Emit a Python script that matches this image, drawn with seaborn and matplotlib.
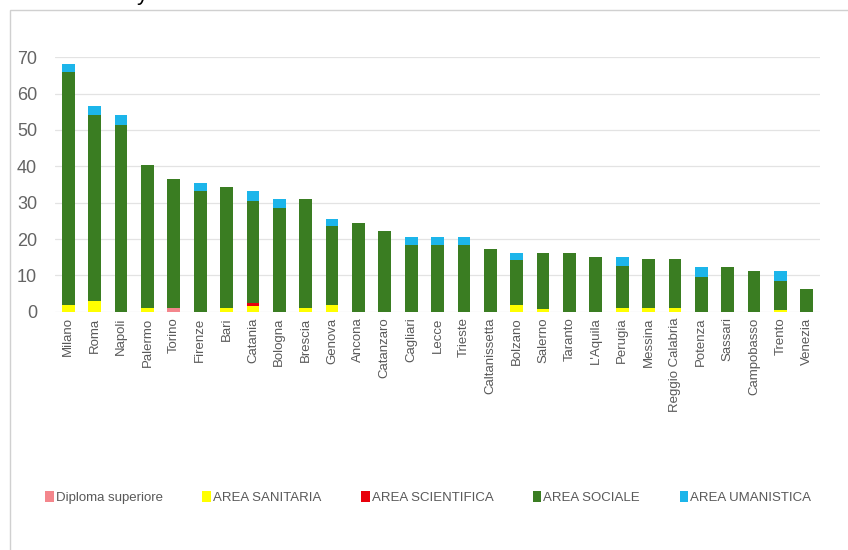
import matplotlib
matplotlib.use("Agg")
import matplotlib.pyplot as plt
import seaborn as sns
import numpy as np
from matplotlib.patches import Patch, Rectangle

# -----------------------------
# Data
# -----------------------------
citta = ["Milano", "Roma", "Napoli", "Palermo", "Torino", "Firenze", "Bari",
         "Catania", "Bologna", "Brescia", "Genova", "Ancona", "Catanzaro",
         "Cagliari", "Lecce", "Trieste", "Caltanissetta", "Bolzano", "Salerno",
         "Taranto", "L'Aquila", "Perugia", "Messina", "Reggio Calabria",
         "Potenza", "Sassari", "Campobasso", "Trento", "Venezia"]

diploma = [0, 0, 0, 0, 1, 0, 0, 0, 0, 0, 0, 0, 0, 0, 0, 0, 0, 0, 0,
           0, 0, 0, 0, 0, 0, 0, 0, 0, 0]
sanitaria = [2, 3, 0, 1, 0, 0, 1, 1.5, 0, 1, 2, 0, 0, 0, 0, 0, 0, 2, 0.7,
             0, 0, 1, 1, 1, 0, 0, 0, 0.6, 0]
scientifica = [0, 0, 0, 0, 0, 0, 0, 1, 0, 0, 0, 0, 0, 0, 0, 0, 0, 0, 0,
               0, 0, 0, 0, 0, 0, 0, 0, 0, 0]
sociale = [64, 51, 51.5, 39.5, 35.5, 33.3, 33.3, 28, 28.6, 30, 21.5, 24.5, 22.3,
           18.5, 18.5, 18.5, 17.3, 12.3, 15.5, 16.2, 15.1, 11.7, 13.6, 13.6,
           9.6, 12.4, 11.3, 7.9, 6.3]
umanistica = [2, 2.5, 2.5, 0, 0, 2, 0, 2.8, 2.5, 0, 2, 0, 0, 2.1, 2.1, 2.1, 0,
              2, 0, 0, 0, 2.4, 0, 0, 2.8, 0, 0, 2.8, 0]

serie = ["Diploma superiore", "AREA SANITARIA", "AREA SCIENTIFICA",
         "AREA SOCIALE", "AREA UMANISTICA"]
colori = ["#F4868C", "#FFFF00", "#E8000B", "#3A7D22", "#1CB5EA"]

# cumulative tops for overlay stacking
strati = np.array([diploma, sanitaria, scientifica, sociale, umanistica])
cumul = np.cumsum(strati, axis=0)

# -----------------------------
# Plot
# -----------------------------
sns.set_theme(style="white")
plt.rcParams["font.family"] = ["Liberation Sans", "DejaVu Sans"]

fig = plt.figure(figsize=(8.48, 5.5), dpi=100)
ax = fig.add_axes([0.065, 0.433, 0.902, 0.463])

# draw tallest first so the shorter stacks sit on top
for i in range(len(serie) - 1, -1, -1):
    sns.barplot(x=citta, y=cumul[i], color=colori[i], saturation=1,
                width=0.48, linewidth=0, errorbar=None, ax=ax)

ax.set_xlim(-0.5, len(citta) - 0.5)
ax.set_ylim(0, 70)
ax.set_yticks(range(0, 71, 10))
ax.yaxis.grid(True, color="#E3E3E3", linewidth=0.9)
ax.set_axisbelow(True)
for s in ax.spines.values():
    s.set_visible(False)

ax.tick_params(axis="y", length=0, pad=13, labelsize=13, labelcolor="#646464")
ax.tick_params(axis="x", length=0, pad=4, labelsize=9.5, labelcolor="#595959")
ax.set_xticks(range(len(citta)))
ax.set_xticklabels(citta, rotation=90)
ax.set_xlabel("")
ax.set_ylabel("")

# legend
handles = [Patch(facecolor=c, edgecolor="none") for c in colori]
fig.legend(handles, serie, loc="center", bbox_to_anchor=(0.505, 0.096),
           ncol=5, frameon=False, fontsize=9.5, labelcolor="#595959",
           handlelength=0.65, handleheight=0.9, handletextpad=0.15,
           columnspacing=3.0)

# chart area border and cut-off title
fig.patches.append(Rectangle((10 / 848, -0.05), 1.0, 1 - 10 / 550 + 0.05,
                             transform=fig.transFigure, fill=False,
                             edgecolor="#D0D0D0", linewidth=1))
fig.text(0.161, 1.0, "y", fontsize=16, color="black", va="baseline")

fig.savefig("out.png", dpi=100)
